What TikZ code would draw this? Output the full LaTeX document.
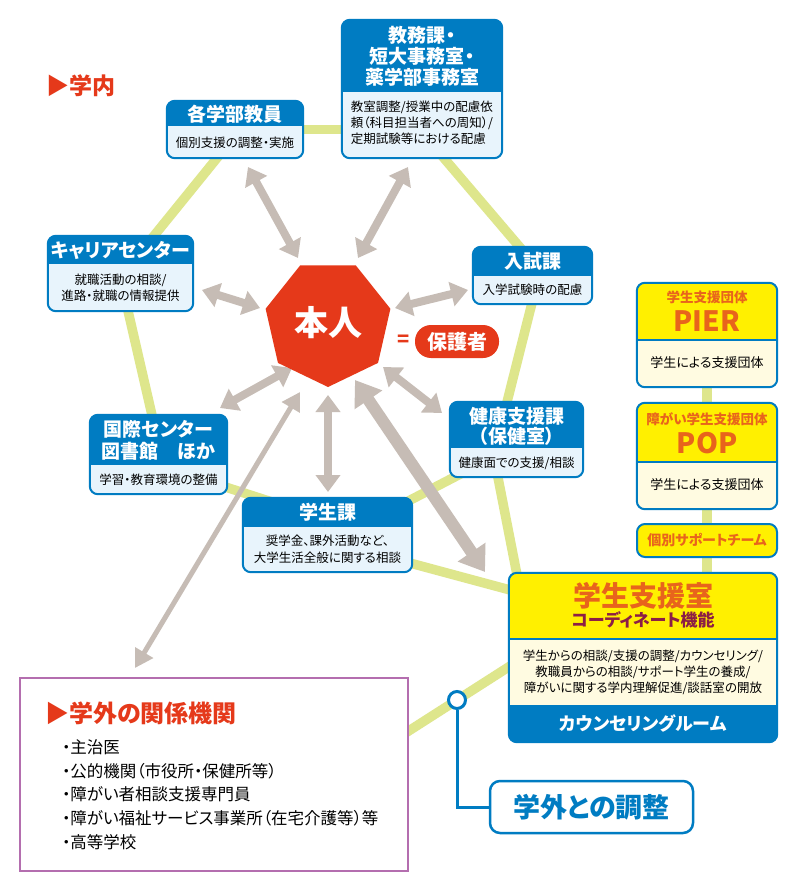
\documentclass[tikz,border=0pt]{standalone}
\usepackage{fontspec}
\setmainfont[RawFeature=+palt]{Noto Sans CJK JP}
\usetikzlibrary{arrows.meta,shapes.geometric,fit}
\definecolor{hblue}{RGB}{0,124,194}
\definecolor{lblue}{RGB}{232,244,252}
\definecolor{glin}{RGB}{222,230,140}
\definecolor{garr}{RGB}{198,188,181}
\definecolor{jred}{RGB}{229,57,26}
\definecolor{jyel}{RGB}{255,240,0}
\definecolor{cream}{RGB}{255,251,225}
\definecolor{jorg}{RGB}{232,100,28}
\definecolor{jmaroon}{RGB}{140,30,70}
\definecolor{purp}{RGB}{180,110,175}
\pgfdeclarelayer{back}\pgfdeclarelayer{lines}\pgfsetlayers{back,lines,main}
\newcommand\fs[2]{\fontsize{#1pt}{#2pt}\selectfont}
\newcommand\rr{8pt}
\newcommand\band[7]{\begin{scope}\clip (#1,#5) rectangle (#3,#6);\fill[#7,rounded corners=\rr] (#1,#2) rectangle (#3,#4);\end{scope}}
\newcommand\bbox[8]{%
 \node[fit={(#2,#3)(#4,#6)},inner sep=0pt] (#1) {};
 \band{#2}{#3}{#4}{#6}{#3}{#5}{#7}\band{#2}{#3}{#4}{#6}{#5}{#6}{#8}%
 \draw[hblue,line width=2pt,rounded corners=\rr] (#1.north west) rectangle (#1.south east);}
\begin{document}
\begin{tikzpicture}[x=1pt,y=-1pt,
 htxt/.style={text=white,font=\bfseries\fs{19}{21},align=center,inner sep=0pt},
 btxt/.style={text=black,font=\fs{12.5}{16},align=center,inner sep=0pt},
 gline/.style={draw=glin,line width=9.5pt},
 garrow/.style={draw=garr,line width=8pt,{Triangle[length=17pt,width=24pt]}-{Triangle[length=17pt,width=24pt]}},
 bigarrow/.style={draw=garr,line width=12pt,{Triangle[length=24pt,width=32pt]}-{Triangle[length=24pt,width=32pt]}},
 thinarrow/.style={draw=garr,line width=5pt,{Triangle[length=18pt,width=20pt]}-{Triangle[length=18pt,width=20pt]}},
 otxt/.style={text=jorg,inner sep=0pt}]
\useasboundingbox (0,0) rectangle (800,890);
\begin{pgfonlayer}{back}\fill[white] (0,0) rectangle (800,890);\end{pgfonlayer}

\node[anchor=west,text=jred,font=\bfseries\fs{23}{23},inner sep=0pt] (gakunai) at (46,86) {▶学内};

% blue boxes
\bbox{kaku}{167}{101}{303}{127}{158}{hblue}{lblue}
\node[htxt] (kakuh) at (235,114) {各学部教員};
\node[btxt] (kakub) at (235,143) {個別支援の調整・実施};

\bbox{kyomu}{342}{20}{502}{93}{158}{hblue}{lblue}
\node[htxt] (kyomuh) at (422,56) {教務課・\\短大事務室・\\薬学部事務室};
\node[btxt,align=left] (kyomub) at (422,123) {教室調整/授業中の配慮依\\頼（科目担当者への周知）/\\定期試験等における配慮};

\bbox{career}{48}{236}{193}{265}{311}{hblue}{lblue}
\node[htxt] (careerh) at (120.5,250.5) {キャリアセンター};
\node[btxt] (careerb) at (120.5,288) {就職活動の相談/\\進路・就職の情報提供};

\bbox{nyushi}{473}{247}{592}{276}{304}{hblue}{lblue}
\node[htxt] (nyushih) at (532.5,261.5) {入試課};
\node[btxt] (nyushib) at (532.5,290) {入学試験時の配慮};

\bbox{kokusai}{90}{415}{227}{465}{494}{hblue}{lblue}
\node[htxt,font=\bfseries\fs{19}{22}] (kokusaih) at (158.5,440) {国際センター\\図書館　ほか};
\node[btxt] (kokusaib) at (158.5,480) {学習・教育環境の整備};

\bbox{kenko}{450}{402}{583}{448}{477}{hblue}{lblue}
\node[htxt,font=\bfseries\fs{19}{20}] (kenkoh) at (516.5,426) {健康支援課\\（保健室）};
\node[btxt] (kenkob) at (516.5,463) {健康面での支援/相談};

\bbox{gakusei}{243}{498}{412}{527}{572}{hblue}{lblue}
\node[htxt] (gakuseih) at (327.5,512.5) {学生課};
\node[btxt,font=\fs{12.5}{17}] (gakuseib) at (327.5,549) {奨学金、課外活動など、\\大学生活全般に関する相談};

% yellow boxes
\bbox{pier}{637}{283}{777}{340}{387}{jyel}{cream}
\draw[hblue,line width=1.5pt] (637,340) -- (777,340);
\node[otxt,font=\bfseries\fs{13.5}{14}] (pier1) at (707,297) {学生支援団体};
\node[otxt,font=\bfseries\fs{28}{28}] (pier2) at (707,321) {PIER};
\node[btxt,font=\fs{13}{14}] (pierb) at (707,363) {学生による支援団体};

\bbox{pop}{637}{403}{777}{462}{509}{jyel}{cream}
\draw[hblue,line width=1.5pt] (637,462) -- (777,462);
\node[otxt,font=\bfseries\fs{13.5}{14}] (pop1) at (707,419) {障がい学生支援団体};
\node[otxt,font=\bfseries\fs{28}{28}] (pop2) at (707,443) {POP};
\node[btxt,font=\fs{13}{14}] (popb) at (707,485) {学生による支援団体};

\node[draw=hblue,line width=2pt,fill=jyel,rounded corners=8pt,minimum width=140pt,minimum height=33pt,inner sep=0pt,text=jorg,font=\bfseries\fs{14}{14}] (kobetsu) at (707,540.5) {個別サポートチーム};

\node[fit={(509,573)(777,742)},inner sep=0pt] (shien) {};
\band{509}{573}{777}{742}{573}{639}{jyel}
\band{509}{573}{777}{742}{639}{705}{cream}
\band{509}{573}{777}{742}{705}{742}{hblue}
\draw[hblue,line width=1.5pt] (509,639) -- (777,639);
\draw[hblue,line width=2pt,rounded corners=\rr] (shien.north west) rectangle (shien.south east);
\node[otxt,font=\bfseries\fs{28}{28}] (shien1) at (643,596) {学生支援室};
\node[text=jmaroon,inner sep=0pt,font=\bfseries\fs{17}{17}] (shien2) at (643,620) {コーディネート機能};
\node[btxt] (shienb) at (643,672) {学生からの相談/支援の調整/カウンセリング/\\教職員からの相談/サポート学生の養成/\\障がいに関する学内理解促進/談話室の開放};
\node[htxt,font=\bfseries\fs{18}{18}] (shienf) at (643,723.5) {カウンセリングルーム};

% center
\node[regular polygon,regular polygon sides=7,shape border rotate=180,fill=jred,minimum size=128pt,inner sep=0pt,text=white,font=\bfseries\fs{34}{34}] (honin) at (328,323) {本人};
\node[text=jred,font=\bfseries\fs{20}{20},inner sep=0pt] (eq) at (404,341) {=};
\node[fill=jred,rounded corners=16pt,minimum width=84pt,minimum height=33pt,inner sep=0pt,text=white,font=\bfseries\fs{20}{20}] (hogo) at (457,341.5) {保護者};

% outside
\node[fit={(20,678)(408,871)},inner sep=0pt,draw=purp,line width=1.3pt,fill=white] (gaibu) {};
\node[anchor=west,text=jred,font=\bfseries\fs{24}{24},inner sep=0pt] (gaibut) at (45,713) {▶学外の関係機関};
\node[anchor=west,align=left,inner sep=0pt,font=\fs{16.5}{23.75}] (gaibul) at (62,794.5) {・主治医\\・公的機関（市役所・保健所等）\\・障がい者相談支援専門員\\・障がい福祉サービス事業所（在宅介護等）等\\・高等学校};

\node[circle,draw=hblue,line width=3pt,fill=white,minimum size=17pt,inner sep=0pt] (circ) at (457,700) {};
\node[draw=hblue,line width=2.5pt,fill=white,rounded corners=10pt,minimum width=203pt,minimum height=52pt,inner sep=0pt,text=hblue,font=\bfseries\fs{27}{27}] (chosei) at (591.5,807) {学外との調整};
\draw[hblue,line width=3pt] (circ) |- (chosei);

\begin{pgfonlayer}{lines}
\draw[gline] (kaku.east) -- (kaku.east -| kyomu.west);
\draw[gline] ([shift={(-11.5,20.5)}]kaku.center) -- ([shift={(26,-28.5)}]career.center);
\draw[gline] ([shift={(5.7,29.5)}]career.center) -- ([shift={(-4.7,-31.5)}]kokusai.center);
\draw[gline] ([shift={(51.5,27.5)}]kokusai.center) -- ([shift={(-52.5,-32)}]gakusei.center);
\draw[gline] ([shift={(-46.5,29.5)}]kenko.center) -- ([shift={(67.5,-27)}]gakusei.center);
\draw[gline] ([shift={(67.5,24)}]gakusei.center) -- ([shift={(-118,-63.5)}]shien.center);
\draw[gline] ([shift={(-20,30.5)}]kenko.center) -- ([shift={(-124,-72.5)}]shien.center);
\draw[gline] ([shift={(1.5,19.5)}]nyushi.center) -- ([shift={(-11.5,-29.5)}]kenko.center);
\draw[gline] ([shift={(15,61)}]kyomu.center) -- ([shift={(-6,-20.5)}]nyushi.center);
\draw[gline] (pier) -- (pop);
\draw[gline] (pop) -- (kobetsu);
\draw[gline] (kobetsu) -- (kobetsu |- shien.center);
\draw[gline] ([shift={(181,-34.8)}]gaibu.center) -- ([shift={(-123,2.2)}]shien.center);

\coordinate (a1s) at (248,167); \coordinate (a1e) at (298,258);
\coordinate (a2s) at (408,167); \coordinate (a2e) at (358,258);
\coordinate (a3s) at (202,290); \coordinate (a3e) at (260,308);
\coordinate (a4s) at (468,290); \coordinate (a4e) at (395,308);
\coordinate (a5s) at (220,408); \coordinate (a5e) at (292,368);
\coordinate (a6s) at (328,492); \coordinate (a6e) at (328,395);
\coordinate (a7s) at (442,413); \coordinate (a7e) at (383,367);
\coordinate (a8s) at (485,572); \coordinate (a8e) at (355,380);
\coordinate (a9s) at (135,668); \coordinate (a9e) at (300,392);
\draw[garrow] (a1s) -- (a1e);
\draw[garrow] (a2s) -- (a2e);
\draw[garrow] (a3s) -- (a3e);
\draw[garrow] (a4s) -- (a4e);
\draw[garrow] (a5s) -- (a5e);
\draw[garrow] (a6s) -- (a6e);
\draw[garrow] (a7s) -- (a7e);
\draw[bigarrow] (a8s) -- (a8e);
\draw[thinarrow] (a9s) -- (a9e);
\end{pgfonlayer}
\end{tikzpicture}
\end{document}
